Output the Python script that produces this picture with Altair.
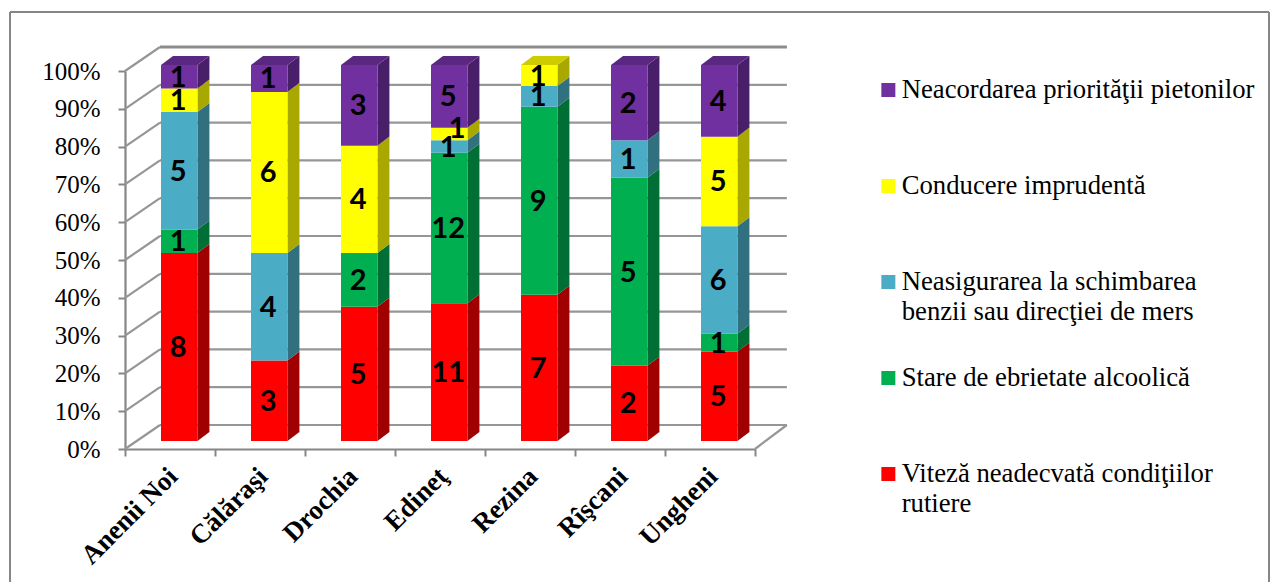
import altair as alt
import pandas as pd

categories = ["Anenii Noi", "Călăraşi", "Drochia", "Edineţ", "Rezina", "Rîşcani", "Ungheni"]
series_names = [
    "Viteză neadecvată condiţiilor rutiere",
    "Stare de ebrietate alcoolică",
    "Neasigurarea la schimbarea benzii sau direcţiei de mers",
    "Conducere imprudentă",
    "Neacordarea priorităţii pietonilor",
]
viteza = [8, 3, 5, 11, 7, 2, 5]
ebrietate = [1, 0, 2, 12, 9, 5, 1]
neasigurare = [5, 4, 0, 1, 1, 1, 6]
imprudenta = [1, 6, 4, 1, 1, 0, 5]
pietoni = [1, 1, 3, 5, 0, 2, 4]
front_colors = ["#FF0000", "#00B050", "#4BACC6", "#FFFF00", "#7030A0"]
side_colors = ["#A00000", "#006F35", "#31707F", "#A8A800", "#4A1F69"]
top_colors = ["#C00000", "#008A40", "#3A8CA0", "#CCCC00", "#5A2880"]

all_series = [viteza, ebrietate, neasigurare, imprudenta, pietoni]
grid_values = [i / 10 for i in range(11)]

BAR_L, BAR_R = 0.40, 0.805      # bar edges inside a category unit
SIDE_DX, SIDE_DY = 0.133, 0.024  # depth of a bar
BAR_Y0, BAR_YS = 0.021, 0.9947   # floor lift and vertical scale of the bars
WALL_DX, WALL_DY = 0.389, 0.0635  # depth of the chart box
RIGHT = 7.0

front, side, top, labels = [], [], [], []
for c, cat in enumerate(categories):
    total = sum(s[c] for s in all_series)
    cum = 0
    top_s = max(k for k, s in enumerate(all_series) if s[c] > 0)
    for k, s in enumerate(all_series):
        v = s[c]
        if v == 0:
            continue
        lo = BAR_Y0 + BAR_YS * cum / total
        cum += v
        hi = BAR_Y0 + BAR_YS * cum / total
        x0, x1 = c + BAR_L, c + BAR_R
        front.append(dict(x0=x0, x1=x1, lo=lo, hi=hi, series=series_names[k]))
        gid = f"{c}-{k}"
        for xx, dd in ((x1, 0), (x1 + SIDE_DX, SIDE_DY)):
            side.append(dict(g=gid, x=xx, lo=lo + dd, hi=hi + dd, col=side_colors[k]))
        if k == top_s:
            for dd, sh in ((0, 0), (SIDE_DY, SIDE_DX)):
                top.append(dict(g=gid, a=x0 + sh, b=x1 + sh, y=hi + dd, col=top_colors[k]))
        nudge_x = 0.1 if (cat == "Edineţ" and k == 3) else 0
        nudge_y = 0.016 if (cat == "Edineţ" and k == 3) else 0
        labels.append(dict(x=(x0 + x1) / 2 + nudge_x, y=(lo + hi) / 2 + nudge_y, t=str(v)))

front, side, top, labels = map(pd.DataFrame, (front, side, top, labels))

xs = alt.Scale(domain=[0, 7], range=[0, 630], nice=False, zero=False)
ys = alt.Scale(domain=[0, 1], range=[402, 24], nice=False, zero=False)
y_axis = alt.Axis(values=grid_values, format=".0%", grid=False, tickSize=7, tickWidth=2,
                  tickColor="#868686", domainColor="#868686", domainWidth=2.2,
                  labelFont="Liberation Serif", labelFontSize=25, labelFontWeight="normal",
                  labelColor="black", labelPadding=18, title=None)

GRAY = "#969696"
back = pd.DataFrame([dict(x=WALL_DX, x2=RIGHT + WALL_DX * 0.91, y=v + WALL_DY, y2=v + WALL_DY) for v in grid_values])
diag = pd.DataFrame([dict(x=0, x2=WALL_DX, y=v, y2=v + WALL_DY) for v in grid_values]
                    + [dict(x=RIGHT, x2=RIGHT + WALL_DX * 0.91, y=0, y2=WALL_DY)])

def rules(df, width=2.2, color=GRAY):
    return alt.Chart(df).mark_rule(strokeWidth=width, color=color).encode(
        x=alt.X("x:Q", scale=xs, axis=None), x2="x2:Q",
        y=alt.Y("y:Q", scale=ys, axis=y_axis), y2="y2:Q")

back_l = rules(back)
diag_l = rules(diag)
top_line = rules(back.tail(1), 3, "#8C8C8C")

side_l = alt.Chart(side).mark_area(opacity=1).encode(
    x=alt.X("x:Q", scale=xs, axis=None),
    y=alt.Y("lo:Q", scale=ys, axis=y_axis), y2="hi:Q",
    detail="g:N", fill=alt.Fill("col:N", scale=None))

top_l = alt.Chart(top).mark_area(orient="horizontal", opacity=1).encode(
    y=alt.Y("y:Q", scale=ys, axis=y_axis),
    x=alt.X("a:Q", scale=xs, axis=None), x2="b:Q",
    detail="g:N", fill=alt.Fill("col:N", scale=None))

first = "Neasigurarea la schimbarea"
second = "benzii sau direcţiei de mers"
first2 = "Viteză neadecvată condiţiilor"
expr = (f"datum.label == '{series_names[2]}' ? ['{first}', '{second}'] : "
        f"datum.label == '{series_names[0]}' ? ['{first2}', 'rutiere'] : datum.label")

front_l = alt.Chart(front).mark_rect(strokeWidth=0).encode(
    x=alt.X("x0:Q", scale=xs, axis=None), x2="x1:Q",
    y=alt.Y("lo:Q", scale=ys, axis=y_axis), y2="hi:Q",
    color=alt.Color("series:N",
                    scale=alt.Scale(domain=series_names[::-1], range=front_colors[::-1]),
                    legend=alt.Legend(title=None, orient="none", legendX=746, legendY=-5,
                                      symbolType="square", symbolSize=196, symbolStrokeWidth=0,
                                      symbolOffset=4,
                                      labelFont="Liberation Serif", labelFontSize=26.7,
                                      labelColor="black", labelLimit=420, labelOffset=0,
                                      clipHeight=95.8, rowPadding=0, labelExpr=expr)))

text_l = alt.Chart(labels).mark_text(font="Lato", fontWeight="bold", fontSize=29, color="black", dy=1, dx=-1).encode(
    x=alt.X("x:Q", scale=xs, axis=None),
    y=alt.Y("y:Q", scale=ys, axis=y_axis), text="t:N")

cat_df = pd.DataFrame({"cat": categories})
cat_l = alt.Chart(cat_df).mark_rule(opacity=0).encode(
    x=alt.X("cat:N", sort=categories,
            scale=alt.Scale(type="band", domain=categories, range=[0, 630], paddingInner=0, paddingOuter=0),
            axis=alt.Axis(title=None, tickBand="extent", tickSize=7, tickWidth=2, tickColor="#868686",
                          domainColor="#868686", domainWidth=2.2, labelAngle=315, labelAlign="right",
                          labelBaseline="middle", labelFont="Liberation Serif", labelFontSize=27,
                          labelFontWeight="bold", labelColor="black", labelPadding=16, labelOffset=3,
                          labelLimit=300)))

frame_df = pd.DataFrame({"k": [0]})
frame = alt.layer(
    alt.Chart(frame_df).mark_rule(color="#868686", strokeWidth=2).encode(
        x=alt.value(-115), x2=alt.value(-115), y=alt.value(-35), y2=alt.value(540)),
    alt.Chart(frame_df).mark_rule(color="#868686", strokeWidth=2).encode(
        x=alt.value(1144), x2=alt.value(1144), y=alt.value(-35), y2=alt.value(540)),
    alt.Chart(frame_df).mark_rule(color="#868686", strokeWidth=2).encode(
        x=alt.value(-115), x2=alt.value(1144), y=alt.value(-35), y2=alt.value(-35)),
)

chart = alt.layer(frame, back_l, diag_l, top_line, cat_l, side_l, top_l, front_l, text_l).resolve_scale(
    x="independent", color="independent"
).properties(
    width=662, height=402,
    padding={"left": 117, "top": 39, "right": 483, "bottom": 133},
    autosize=alt.AutoSizeParams(type="none"),
).configure_view(stroke=None)
chart.config.style = {"guide-label": {"lineHeight": 30}}

chart.save("out.html", embed_options={"renderer": "svg", "actions": False})
